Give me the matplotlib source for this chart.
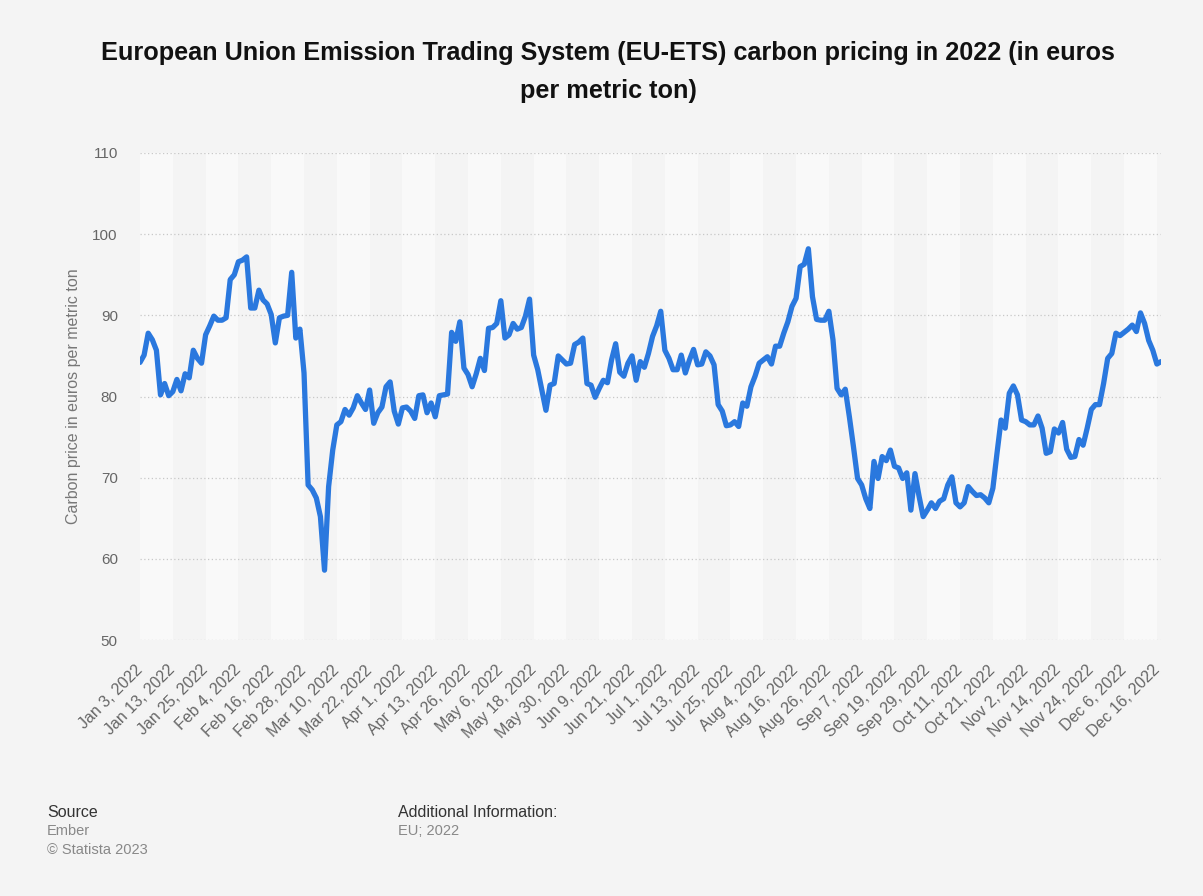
#!/usr/bin/env python3
import matplotlib
matplotlib.use("Agg")
import matplotlib.pyplot as plt

plt.rcParams['font.family'] = ['Liberation Sans', 'DejaVu Sans']

# EU-ETS daily carbon price 2022, euros per metric ton (trading days)
prices = [
    84.2, 85.1, 87.8, 87.0, 85.7, 80.2, 81.6, 80.1, 80.6, 82.1, 80.7, 82.8, 82.3, 85.7, 84.7, 84.1,
    87.6, 88.7, 89.9, 89.4, 89.4, 89.7, 94.4, 95.0, 96.6, 96.8, 97.2, 90.9, 90.9, 93.1, 91.9, 91.4,
    90.1, 86.6, 89.7, 89.9, 90.0, 95.3, 87.2, 88.3, 82.9, 69.1, 68.5, 67.5, 65.2, 58.6,
    68.9, 73.4, 76.5, 76.9, 78.4, 77.7, 78.6, 80.1, 79.2, 78.4, 80.8, 76.7, 78.0, 78.7, 81.2, 81.8,
    78.2, 76.6, 78.6, 78.7, 78.2, 77.3, 80.1, 80.2, 78.0, 79.2, 77.5, 80.1, 80.2, 80.3, 87.9, 86.8,
    89.2, 83.5, 82.7, 81.2, 82.8, 84.7, 83.2, 88.4, 88.5, 89.0,
    91.8, 87.2, 87.6, 89.0, 88.3, 88.5, 89.9, 92.0, 85.1, 83.3, 80.8, 78.3, 81.4, 81.6, 85.0, 84.5,
    84.0, 84.1, 86.4, 86.7, 87.2, 81.6, 81.4, 79.9, 81.0, 82.0, 81.7, 84.5, 86.5, 83.0, 82.5, 84.1,
    85.0, 82.0, 84.3, 83.6, 85.3, 87.4, 88.7, 90.5,
    85.7, 84.7, 83.3, 83.3, 85.1, 82.9, 84.5, 85.8, 83.9, 84.0, 85.5, 85.0, 83.9, 79.0, 78.2, 76.4,
    76.5, 76.9, 76.3, 79.2, 78.8, 81.2, 82.5, 84.1, 84.5, 84.9, 84.0, 86.2, 86.2, 87.8, 89.2, 91.1,
    92.1, 96.0, 96.3, 98.2, 92.3, 89.5, 89.4, 89.4, 90.5, 87.0, 81.0, 80.2, 80.9, 77.5, 73.8, 69.9,
    69.1, 67.4, 66.2, 72.0, 69.9, 72.6, 72.1, 73.4, 71.4, 71.2, 69.9, 70.6, 66.0, 70.5, 67.7, 65.2,
    66.0, 66.9, 66.2, 67.1, 67.4, 69.1, 70.1, 66.9, 66.4, 66.9, 68.9, 68.3, 67.8, 67.9, 67.5,
    66.9, 68.7, 73.0, 77.1, 76.1, 80.4, 81.3, 80.2, 77.1, 76.9, 76.5, 76.5, 77.6, 76.1, 73.0, 73.2,
    76.0, 75.5, 76.8, 73.5, 72.5, 72.6, 74.7, 74.0, 76.1, 78.4, 79.0, 79.0, 81.6, 84.7, 85.3, 87.8,
    87.5, 87.9, 88.3, 88.8, 88.0, 90.3, 89.0, 86.9, 85.7, 84.0, 84.3,
]

# one label every 8 trading days
date_labels = [
    "Jan 3, 2022", "Jan 13, 2022", "Jan 25, 2022", "Feb 4, 2022", "Feb 16, 2022",
    "Feb 28, 2022", "Mar 10, 2022", "Mar 22, 2022", "Apr 1, 2022", "Apr 13, 2022",
    "Apr 26, 2022", "May 6, 2022", "May 18, 2022", "May 30, 2022", "Jun 9, 2022",
    "Jun 21, 2022", "Jul 1, 2022", "Jul 13, 2022", "Jul 25, 2022", "Aug 4, 2022",
    "Aug 16, 2022", "Aug 26, 2022", "Sep 7, 2022", "Sep 19, 2022", "Sep 29, 2022",
    "Oct 11, 2022", "Oct 21, 2022", "Nov 2, 2022", "Nov 14, 2022", "Nov 24, 2022",
    "Dec 6, 2022", "Dec 16, 2022",
]
label_step = 8
y_ticks = [50, 60, 70, 80, 90, 100, 110]

BG = "#f4f4f4"
W, H = 1203, 896

fig = plt.figure(figsize=(W / 100, H / 100), dpi=100, facecolor=BG)
ax = fig.add_axes([140 / W, 1 - 640 / H, (1161 - 140) / W, (640 - 153) / H])
ax.set_facecolor(BG)

n = len(prices)
x = list(range(n))

# alternating column bands
for k in range(0, len(date_labels), 2):
    ax.axvspan(k * label_step, min((k + 1) * label_step, n - 1), color="#f9f9f9", lw=0, zorder=0)

for v in y_ticks:
    ax.axhline(v, color="#c8c8c8", lw=0.9, ls=(0, (1, 2)), zorder=1)

ax.plot(x, prices, color="#2a78de", lw=3.8, solid_joinstyle="round", solid_capstyle="round", zorder=3)

ax.set_xlim(0, n - 1)
ax.set_ylim(50, 110)
ax.set_yticks(y_ticks)
ax.set_yticklabels([str(v) for v in y_ticks], fontsize=11, color="#666666")
ax.set_xticks([i * label_step for i in range(len(date_labels))])
ax.set_xticklabels(date_labels, rotation=45, ha="right", va="center", rotation_mode="anchor",
                   fontsize=11.5, color="#666666")
ax.tick_params(axis="both", length=0)
ax.tick_params(axis="y", pad=16)
ax.tick_params(axis="x", pad=20)
for s in ax.spines.values():
    s.set_visible(False)

ax.set_ylabel("Carbon price in euros per metric ton", fontsize=11.5, color="#777777", labelpad=8)

fig.text(608 / W, 1 - 72 / H,
         "European Union Emission Trading System (EU-ETS) carbon pricing in 2022 (in euros\nper metric ton)",
         ha="center", va="center", fontsize=18.2, fontweight="bold", color="#111111", linespacing=1.75)

fig.text(47 / W, 1 - 812 / H, "Source", fontsize=11.5, color="#333333", va="center")
fig.text(47 / W, 1 - 831 / H, "Ember", fontsize=10.5, color="#888888", va="center")
fig.text(47 / W, 1 - 850 / H, "\u00a9 Statista 2023", fontsize=10.5, color="#888888", va="center")
fig.text(398 / W, 1 - 812 / H, "Additional Information:", fontsize=11.5, color="#333333", va="center")
fig.text(398 / W, 1 - 831 / H, "EU; 2022", fontsize=10.5, color="#888888", va="center")

fig.savefig("out.png", dpi=100, facecolor=BG)
